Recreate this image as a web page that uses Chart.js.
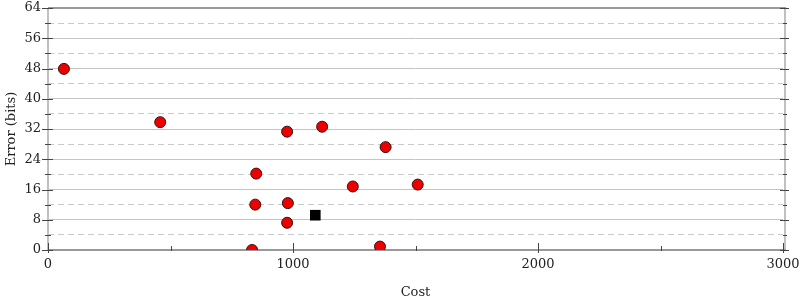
<!DOCTYPE html>
<html>
<head>
<meta charset="utf-8">
<script src="https://cdn.jsdelivr.net/npm/chart.js@4/dist/chart.umd.min.js"></script>
<style>
  html, body { margin: 0; padding: 0; background: #fff; }
  #wrap { width: 800px; height: 300px; }
</style>
</head>
<body>
<div id="wrap"><canvas id="chart"></canvas></div>
<script>
// candidate points (red circles)
const costs  = [65, 458, 976, 1119, 1378, 850, 1244, 1509, 846, 979, 976, 833, 1355];
const errors = [47.9, 33.8, 31.3, 32.6, 27.2, 20.2, 16.8, 17.3, 12.0, 12.4, 7.2, 0.0, 0.9];
// chosen point (black square)
const bestCost  = [1091];
const bestError = [9.2];

const xMajorTicks = [0, 1000, 2000, 3000];
const xMinorTicks = [500, 1500, 2500];
const yMajorTicks = [0, 8, 16, 24, 32, 40, 48, 56, 64];
const yMinorTicks = [4, 12, 20, 28, 36, 44, 52, 60];

const font = { family: "'DejaVu Serif', serif", size: 13 };

function toPoints(xs, ys) {
  return xs.map((v, i) => ({ x: v, y: ys[i] }));
}

// axis frame and tick marks, placed through the scales
const frame = {
  id: "frame",
  beforeDatasetsDraw(chart) {
    const { ctx, chartArea: a, scales: { x, y } } = chart;
    const line = (x1, y1, x2, y2) => { ctx.beginPath(); ctx.moveTo(x1, y1); ctx.lineTo(x2, y2); ctx.stroke(); };
    ctx.save();
    ctx.lineWidth = 2;
    ctx.strokeStyle = "#c0c0c0";
    line(a.left, a.top, a.left, a.bottom);
    line(a.right + 2, a.top, a.right + 2, a.bottom);
    ctx.strokeStyle = "#999";
    line(a.left, a.top, a.right + 3, a.top);
    line(a.left, a.bottom, a.right + 3, a.bottom);

    ctx.lineWidth = 1;
    ctx.strokeStyle = "#444";
    for (const v of yMajorTicks) {
      const p = Math.round(y.getPixelForValue(v)) + 0.5;
      line(a.left - 6, p, a.left + 5, p);
      line(a.right - 3, p, a.right + 6, p);
    }
    for (const v of yMinorTicks) {
      const p = Math.round(y.getPixelForValue(v)) + 0.5;
      line(a.left - 3, p, a.left + 3, p);
      line(a.right, p, a.right + 4, p);
    }
    for (const v of xMajorTicks) {
      const p = Math.round(x.getPixelForValue(v)) + 0.5;
      line(p, a.bottom + 3, p, a.bottom - 7);
    }
    for (const v of xMinorTicks) {
      const p = Math.round(x.getPixelForValue(v)) + 0.5;
      line(p, a.bottom + 1, p, a.bottom - 4);
    }
    ctx.restore();
  }
};

new Chart(document.getElementById("chart"), {
  type: "scatter",
  data: {
    datasets: [
      {
        label: "candidates",
        data: toPoints(costs, errors),
        pointStyle: "circle",
        pointRadius: 5.5,
        backgroundColor: "#ee0000",
        borderColor: "#331111",
        borderWidth: 1
      },
      {
        label: "chosen",
        data: toPoints(bestCost, bestError),
        pointStyle: "rect",
        pointRadius: 7.5,
        backgroundColor: "#000",
        borderColor: "#000",
        borderWidth: 0
      }
    ]
  },
  options: {
    responsive: true,
    maintainAspectRatio: false,
    animation: false,
    layout: { padding: { top: 8, right: 17, left: 0, bottom: 0 } },
    plugins: { legend: { display: false }, tooltip: { enabled: false } },
    scales: {
      x: {
        type: "linear",
        min: 0, max: 3000,
        afterFit: s => { s.height = 50; s.paddingLeft = 0; s.paddingRight = 0; },
        grid: { display: false, drawTicks: false },
        border: { display: false },
        ticks: { stepSize: 1000, padding: 7, color: "#222", font: font, maxRotation: 0,
                 callback: v => String(v) },
        title: { display: true, text: "Cost", color: "#222", font: font, padding: { top: 8, bottom: 0 } }
      },
      y: {
        type: "linear",
        min: 0, max: 64,
        afterFit: s => { s.width = 48; s.paddingTop = 0; s.paddingBottom = 0; },
        grid: {
          drawTicks: false,
          color: ctx => (ctx.tick && ctx.tick.value > 0 && ctx.tick.value < 64) ? "#c4c4c4" : "rgba(0,0,0,0)",
          lineWidth: 1
        },
        border: { display: false },
        ticks: { stepSize: 8, padding: 7, color: "#222", font: font },
        title: { display: true, text: "Error (bits)", color: "#222", font: font, padding: { top: 4, bottom: 2 } }
      },
      y2: {
        type: "linear",
        position: "right",
        min: 0, max: 64,
        afterFit: s => { s.width = 0; s.paddingTop = 0; s.paddingBottom = 0; },
        grid: {
          drawTicks: false,
          color: ctx => (ctx.tick && ctx.tick.value % 8 === 4) ? "#c8c8c8" : "rgba(0,0,0,0)",
          lineWidth: 1
        },
        border: { display: false, dash: [6, 4] },
        ticks: { display: false, stepSize: 4 }
      }
    }
  },
  plugins: [frame]
});
</script>
</body>
</html>
